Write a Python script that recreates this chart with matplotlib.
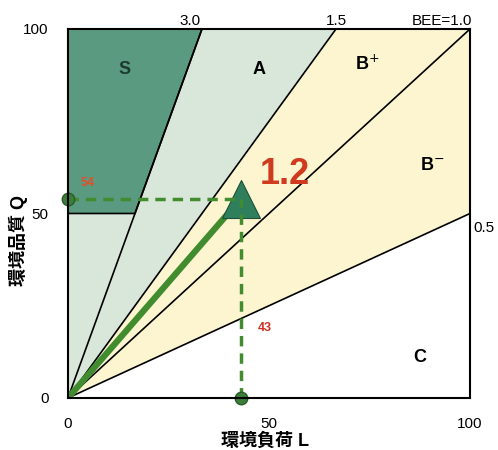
import matplotlib.pyplot as plt
from matplotlib.patches import Polygon

plt.rcParams['font.family'] = ['Liberation Sans', 'Noto Sans CJK JP']

# BEE boundary slopes (Q = slope * L)
slopes = [3.0, 1.5, 1.0, 0.5]
slope_labels = ['3.0', '1.5', 'BEE=1.0', '0.5']
s_floor = 50  # S class requires Q >= 50

# evaluated building
L_pt = 43
Q_pt = 54
bee_label = '1.2'

ticks = [0, 50, 100]

col_s = '#5a9a80'
col_a = '#d9e6da'
col_b = '#fcf5cf'
col_green = '#418c2f'

if __name__ == '__main__':
    fig = plt.figure(figsize=(4.98, 4.5), dpi=100)
    ax = fig.add_axes([0.1365, 0.1156, 0.8073, 0.82])
    ax.set_xlim(0, 100)
    ax.set_ylim(0, 100)

    # regions
    x30 = 100 / slopes[0]
    x15 = 100 / slopes[1]
    ax.add_patch(Polygon([(0, 0), (x15, 100), (0, 100)], closed=True, fc=col_a, ec='none', zorder=1))
    ax.add_patch(Polygon([(0, 0), (x15, 100), (100, 100), (100, 100 * slopes[3])],
                         closed=True, fc=col_b, ec='none', zorder=1))
    ax.add_patch(Polygon([(0, s_floor), (s_floor / slopes[0], s_floor), (x30, 100), (0, 100)],
                         closed=True, fc=col_s, ec='black', lw=1.2, zorder=2))

    # boundary lines
    for k in slopes:
        xe = min(100, 100 / k)
        ax.plot([0, xe], [0, k * xe], color='black', lw=1.2, zorder=3)

    # line labels
    ax.text(x30 - 3, 100.3, slope_labels[0], ha='center', va='bottom', fontsize=11)
    ax.text(x15, 100.3, slope_labels[1], ha='center', va='bottom', fontsize=11)
    ax.text(100.5, 100.3, slope_labels[2], ha='right', va='bottom', fontsize=11)
    ax.text(100.8, 100 * slopes[3] - 4, slope_labels[3], ha='left', va='center', fontsize=11)

    # region labels
    ax.text(14, 89, 'S', ha='center', va='center', fontsize=13, fontweight='bold', color='#1d3b30')
    ax.text(47.5, 89, 'A', ha='center', va='center', fontsize=13, fontweight='bold')
    ax.text(74.5, 90.5, 'B$^{+}$', ha='center', va='center', fontsize=13, fontweight='bold')
    ax.text(90.5, 63, 'B$^{-}$', ha='center', va='center', fontsize=13, fontweight='bold')
    ax.text(87.5, 11, 'C', ha='center', va='center', fontsize=13, fontweight='bold')

    # evaluated point
    ax.plot([0, L_pt], [0, Q_pt], color=col_green, lw=4.5, solid_capstyle='butt', zorder=4)
    ax.plot(L_pt, Q_pt, marker='^', ms=27, mfc='#2f7f5c', mec='#1f4f3a', mew=0.8, zorder=5)
    ax.plot([0, L_pt], [Q_pt, Q_pt], color=col_green, lw=2.5, ls=(0, (3, 2)), zorder=6)
    ax.plot([L_pt, L_pt], [0, Q_pt], color=col_green, lw=2.5, ls=(0, (3, 2)), zorder=6)
    ax.plot([0, L_pt], [Q_pt, 0], ls='none', marker='o', ms=9, mfc='#3d7d3a', mec='#2a5a2a',
            zorder=7, clip_on=False)
    ax.text(5, Q_pt + 2.5, str(Q_pt), color='#e0502a', fontsize=9, fontweight='bold', ha='center', va='bottom')
    ax.text(L_pt + 6, 19, str(L_pt), color='#d03020', fontsize=9, fontweight='bold', ha='center', va='center')
    ax.text(54, 60.5, bee_label, color='#d03a1e', fontsize=26, fontweight='bold', ha='center', va='center')

    ax.set_xticks(ticks)
    ax.set_yticks(ticks)
    ax.tick_params(length=0, labelsize=11)
    ax.tick_params(axis='x', pad=14)
    ax.tick_params(axis='y', pad=14)
    for sp in ax.spines.values():
        sp.set_linewidth(1.5)
        sp.set_zorder(8)
    fig.text(265 / 498, 1 - 441 / 450, '環境負荷 L', fontsize=13, fontweight='bold', ha='center', va='center')
    fig.text(18 / 498, 1 - 241 / 450, '環境品質 Q', fontsize=13, fontweight='bold', ha='center', va='center',
             rotation=90)

    fig.savefig('out.png', dpi=100)
